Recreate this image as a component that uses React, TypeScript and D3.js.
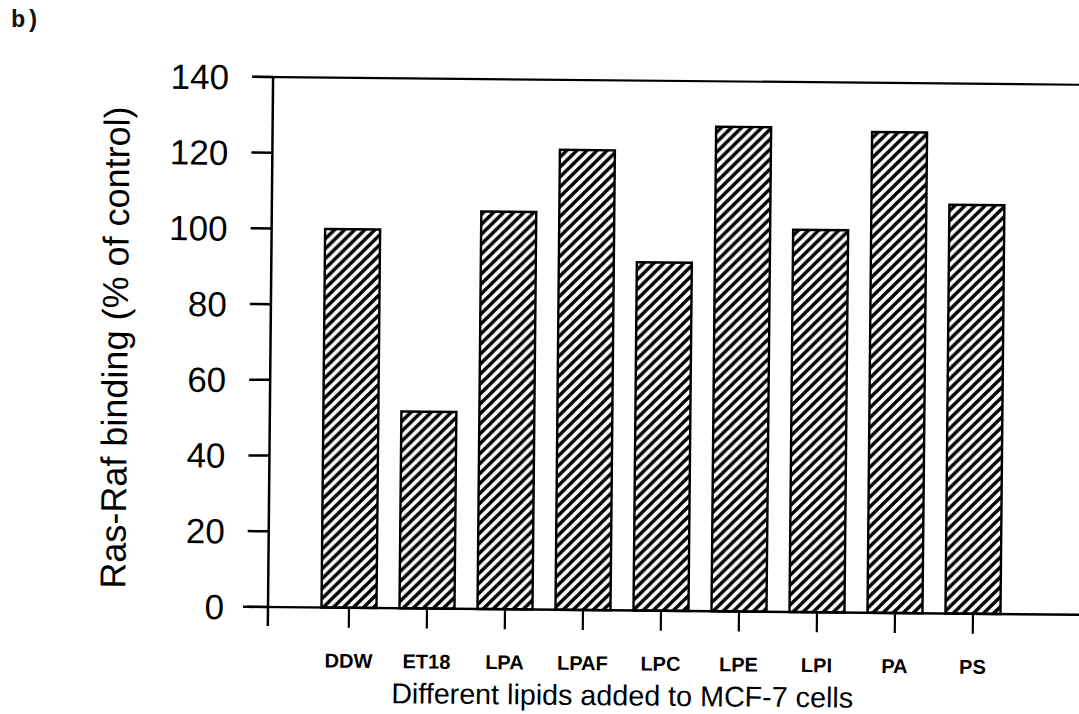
import React from 'react';
import * as d3 from 'd3';

// Lipids added to MCF-7 cells and the resulting Ras-Raf binding (% of control)
const lipids = ['DDW', 'ET18', 'LPA', 'LPAF', 'LPC', 'LPE', 'LPI', 'PA', 'PS'];
const binding = [100, 52, 105, 121.5, 92, 128, 101, 127, 108];
const yTicks = [0, 20, 40, 60, 80, 100, 120, 140];

const W = 1079;
const H = 714;
const X0 = 268; // y axis position
const Y0 = 607; // baseline
const YTOP = 77;
const TILT = 0.55; // slight clockwise skew of the printed figure
const SANS = '"Liberation Sans", Arial, Helvetica, sans-serif';
const MONO = '"Liberation Mono", "Courier New", monospace';

export default function App() {
  const y = d3.scaleLinear().domain([0, 140]).range([Y0, YTOP]);
  const x = d3.scalePoint<string>().domain(lipids).range([349, 973]);
  const barW = 55;
  const rows = lipids.map((name, i) => ({ name, value: binding[i] }));

  // y axis spine with its tick marks as one path
  const yAxisPath =
    `M${X0},${y(140)}V${Y0 + 19}` +
    yTicks.map((t) => `M${X0 - 21},${y(t)}H${X0}`).join('');
  // x tick marks as one path
  const xTickPath = lipids.map((n) => `M${x(n)},${Y0}V${Y0 + 20}`).join('');

  return (
    <svg
      width={W}
      height={H}
      viewBox={`0 0 ${W} ${H}`}
      style={{ position: 'fixed', left: 0, top: 0, background: '#fff' }}
    >
      <defs>
        <pattern id="hatch" patternUnits="userSpaceOnUse" width={10} height={10}>
          <rect width={10} height={10} fill="#fff" />
          <path d="M0,10 L10,0 M-3,3 L3,-3 M7,13 L13,7" stroke="#000" strokeWidth={3.4} />
        </pattern>
      </defs>
      <rect width={W} height={H} fill="#fff" />

      <text x={11} y={27} fontFamily={MONO} fontSize={24} fontWeight="bold" fill="#111">
        b)
      </text>

      <g transform={`rotate(${TILT}, ${X0}, ${Y0})`}>
        {/* bars */}
        {rows.map((d) => (
          <rect
            key={d.name}
            x={(x(d.name) as number) - barW / 2}
            y={y(d.value)}
            width={barW}
            height={Y0 - y(d.value)}
            fill="url(#hatch)"
            stroke="#000"
            strokeWidth={2.4}
          />
        ))}

        {/* frame: top line and baseline */}
        <line x1={X0 - 20} x2={W + 40} y1={y(140)} y2={y(140)} stroke="#000" strokeWidth={2.2} />
        <line x1={X0 - 25} x2={W + 40} y1={Y0} y2={Y0} stroke="#000" strokeWidth={2.4} />

        {/* y axis and ticks */}
        <path d={yAxisPath} stroke="#000" strokeWidth={2.5} fill="none" />

        {/* x ticks */}
        <path d={xTickPath} stroke="#000" strokeWidth={2.2} fill="none" />

        {/* y tick labels */}
        {yTicks.map((t) => (
          <text
            key={`yl${t}`}
            x={X0 - 44}
            y={y(t)}
            dy="0.36em"
            textAnchor="end"
            fontFamily={SANS}
            fontSize={35}
            fill="#000"
          >
            {t}
          </text>
        ))}

        {/* category labels */}
        {lipids.map((name) => (
          <text
            key={name}
            x={x(name) as number}
            y={667}
            textAnchor="middle"
            fontFamily={SANS}
            fontWeight="bold"
            fontSize={20}
            fill="#000"
          >
            {name}
          </text>
        ))}

        {/* axis titles */}
        <text x={623} y={702} textAnchor="middle" fontFamily={SANS} fontSize={28.7} fill="#000">
          Different lipids added to MCF-7 cells
        </text>
        <text
          transform={`translate(125, 349) rotate(-90)`}
          textAnchor="middle"
          fontFamily={SANS}
          fontSize={36}
          fill="#000"
        >
          Ras-Raf binding (% of control)
        </text>
      </g>
    </svg>
  );
}
